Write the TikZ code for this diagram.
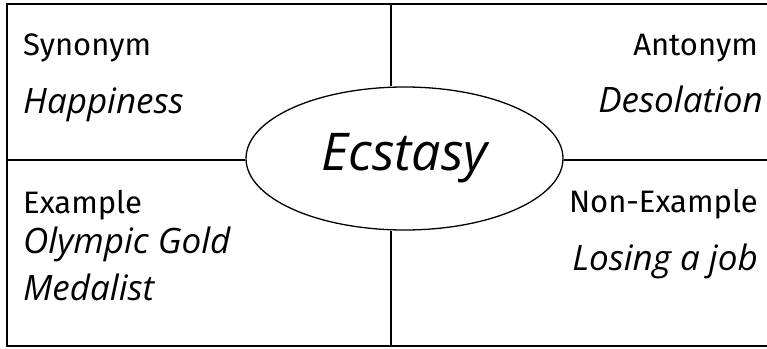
\documentclass[tikz,border=0pt]{standalone}
\usepackage{fontspec}
\usetikzlibrary{shapes.geometric}
\newfontfamily\headfont{Fira Sans}
\newfontfamily\handfont{Open Sans}
\begin{document}
\begin{tikzpicture}[x=1pt,y=-1pt,
  frame/.style={line width=2pt},
  head/.style={inner sep=0pt,font=\headfont\fontsize{31}{34}\selectfont},
  hand/.style={inner sep=0pt,font=\handfont\itshape\fontsize{35}{38}\selectfont},
  center/.style={ellipse,draw,line width=1.3pt,minimum width=317pt,minimum height=143pt,inner sep=0pt,font=\handfont\itshape\fontsize{52}{56}\selectfont}]
\useasboundingbox (0,0) rectangle (767,348);
% center ellipse
\node[center] (ell) at (404.5,158.5) {Ecstasy};
% frame
\coordinate (tr) at (767,4);
\coordinate (tl) at (7,4);
\coordinate (bl) at (7,346);
\coordinate (br) at (767,346);
\coordinate (ml) at (7,160);
\coordinate (mr) at (767,160);
\coordinate (tm) at (391,4);
\coordinate (bm) at (391,346);
\draw[frame] (tr) -- (tl) -- (bl) -- (br);
\draw[frame] (ml) -- (ml -| ell.west);
\draw[frame] (ell.east |- mr) -- (mr);
\draw[frame] (tm) -- (tm |- ell.north);
\draw[frame] (bm) -- (bm |- ell.south);
% texts
\node[head,anchor=base west] (syn) at (23,55) {Synonym};
\node[hand,anchor=base west] (synv) at (23,113) {Happiness};
\node[head,anchor=base east] (ant) at (758,55) {Antonym};
\node[hand,anchor=base east] (antv) at (763,112) {Desolation};
\node[head,anchor=base west] (ex) at (23,213) {Example};
\node[hand,anchor=base west] (exv1) at (23,253) {Olympic Gold};
\node[hand,anchor=base west] (exv2) at (23,300) {Medalist};
\node[head,anchor=base east] (nex) at (758,212) {Non-Example};
\node[hand,anchor=base east] (nexv) at (758,270) {Losing a job};
\end{tikzpicture}
\end{document}
